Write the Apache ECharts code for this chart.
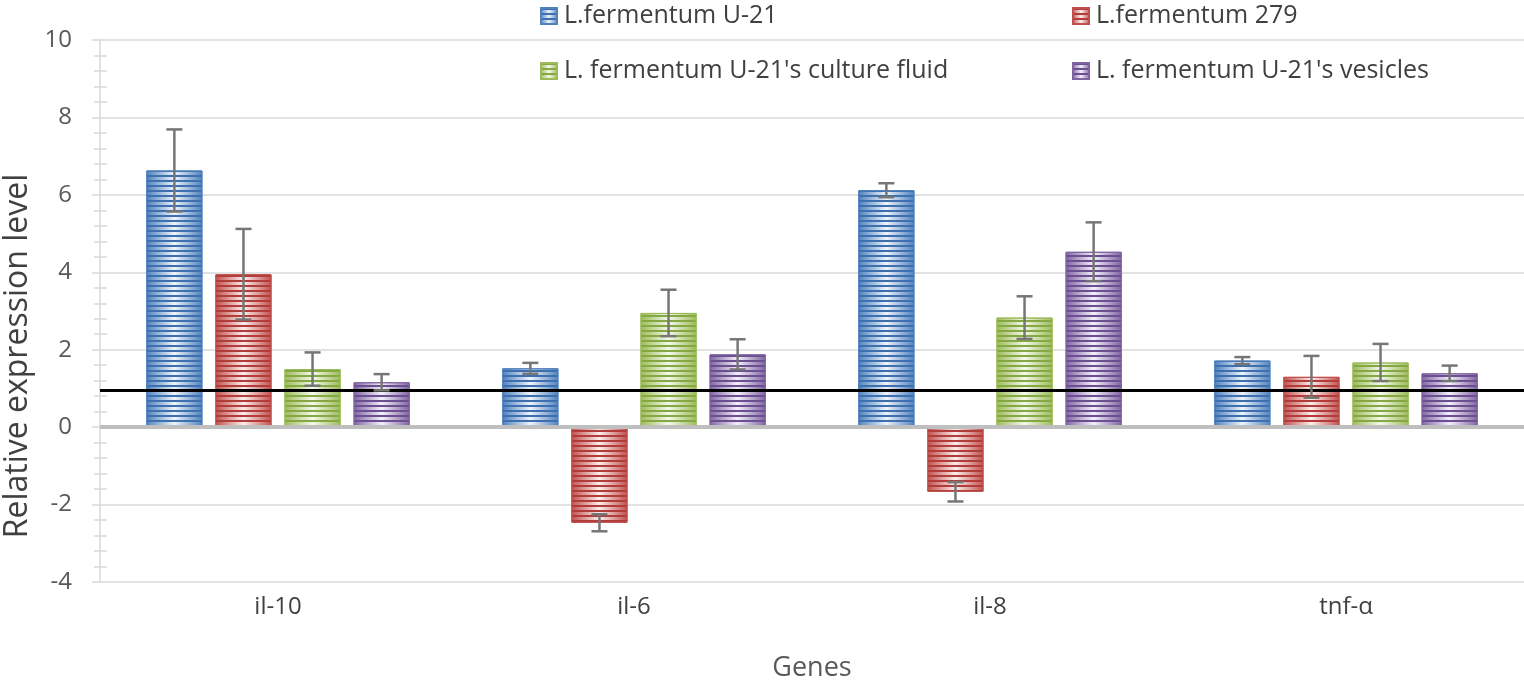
<!DOCTYPE html>
<html>
<head>
<meta charset="utf-8">
<script src="https://cdn.jsdelivr.net/npm/echarts@6/dist/echarts.min.js"></script>
<style>
  html, body { margin: 0; padding: 0; background: #fff; }
  #chart_expr { width: 1524px; height: 680px; }
</style>
</head>
<body>
<div id="chart_expr"></div>
<script>
// data
var genes = ['il-10', 'il-6', 'il-8', 'tnf-α'];
var seriesNames = [
    'L.fermentum U-21',
    'L.fermentum 279',
    "L. fermentum U-21's culture fluid",
    "L. fermentum U-21's vesicles"
];
var u21 = [6.63, 1.52, 6.12, 1.72];
var f279 = [3.95, -2.47, -1.67, 1.30];
var fluid = [1.50, 2.95, 2.83, 1.67];
var vesicles = [1.16, 1.88, 4.53, 1.39];
// error (± half range)
var u21Err = [1.06, 0.14, 0.18, 0.09];
var f279Err = [1.17, 0.22, 0.25, 0.54];
var fluidErr = [0.43, 0.60, 0.55, 0.48];
var vesiclesErr = [0.21, 0.39, 0.76, 0.20];
var refLevel = 0.95;
var yTicks = [-4, -2, 0, 2, 4, 6, 8, 10];

var colors = ['#4f81bd', '#c0504d', '#9bbb59', '#8064a2'];
var darks = ['#3e6fae', '#b23c39', '#86a843', '#6b4f90'];
var lights = ['#eef4fb', '#fbeeee', '#f4f9ec', '#f3effa'];

var CAT_GAP = 0.26, BAR_GAP = 0.23;

var myChart = echarts.init(document.getElementById('chart_expr'));

function barStyle(i) {
    return {
        color: new echarts.graphic.LinearGradient(0, 0, 1, 0, [
            {offset: 0, color: colors[i]},
            {offset: 0.5, color: lights[i]},
            {offset: 1, color: colors[i]}
        ]),
        borderColor: colors[i],
        borderWidth: 1,
        decal: {
            symbol: 'rect',
            symbolSize: 1,
            dashArrayX: [[1, 0]],
            dashArrayY: [2, 2.6],
            rotation: 0,
            color: darks[i]
        }
    };
}

function errRender(k) {
    return function (params, api) {
        var c = api.value(0);
        var lo = api.coord([c, api.value(1)]);
        var hi = api.coord([c, api.value(2)]);
        var band = api.size([1, 0])[0];
        var usable = band * (1 - CAT_GAP);
        var bw = usable / (4 + 3 * BAR_GAP);
        var x = lo[0] - usable / 2 + bw / 2 + k * bw * (1 + BAR_GAP);
        var st = {stroke: '#767676', lineWidth: 2.5};
        return {
            type: 'group',
            children: [
                {type: 'line', shape: {x1: x, y1: lo[1], x2: x, y2: hi[1]}, style: st},
                {type: 'line', shape: {x1: x - 8, y1: lo[1], x2: x + 8, y2: lo[1]}, style: st},
                {type: 'line', shape: {x1: x - 8, y1: hi[1], x2: x + 8, y2: hi[1]}, style: st}
            ]
        };
    };
}

var values = [u21, f279, fluid, vesicles];
var errs = [u21Err, f279Err, fluidErr, vesiclesErr];
var series = [];
values.forEach(function (v, i) {
    var s = {
        name: seriesNames[i],
        type: 'bar',
        data: v,
        barCategoryGap: (CAT_GAP * 100) + '%',
        barGap: (BAR_GAP * 100) + '%',
        itemStyle: barStyle(i),
        z: 2
    };
    if (i == 0) {
        s.markLine = {
            silent: true,
            symbol: 'none',
            label: {show: false},
            data: [
                {yAxis: 0, lineStyle: {color: '#bfbfbf', width: 4, type: 'solid'}},
                {yAxis: refLevel, lineStyle: {color: '#000', width: 3, type: 'solid'}}
            ]
        };
    }
    series.push(s);
});
errs.forEach(function (e, i) {
    var d = [];
    for (var j = 0; j < genes.length; j++) {
        d.push([j, values[i][j] - e[j], values[i][j] + e[j]]);
    }
    series.push({
        name: 'err' + i,
        type: 'custom',
        renderItem: errRender(i),
        data: d,
        z: 5,
        silent: true
    });
});

var legendText = {color: '#404040', fontSize: 25, fontFamily: 'Open Sans', lineHeight: 30, padding: [0, 0, 0, 2]};

option = {
    animation: false,
    grid: {left: 100, right: 0, top: 40, bottom: 98, outerBoundsMode: 'none', containLabel: false},
    legend: [
        {
            data: [seriesNames[0], seriesNames[2]],
            orient: 'vertical', left: 535, top: -4,
            icon: 'rect', itemWidth: 16, itemHeight: 16, itemGap: 25,
            textStyle: legendText
        },
        {
            data: [seriesNames[1], seriesNames[3]],
            orient: 'vertical', left: 1067, top: -4,
            icon: 'rect', itemWidth: 16, itemHeight: 16, itemGap: 25,
            textStyle: legendText
        }
    ],
    xAxis: {
        type: 'category',
        data: genes,
        name: 'Genes',
        nameLocation: 'middle',
        nameGap: 73,
        nameTextStyle: {color: '#595959', fontSize: 27, fontFamily: 'Open Sans'},
        axisLine: {show: false, onZero: false},
        axisTick: {show: false},
        axisLabel: {color: '#404040', fontSize: 24, fontFamily: 'Open Sans', margin: 13}
    },
    yAxis: [
        {
            type: 'value',
            min: yTicks[0],
            max: yTicks[yTicks.length - 1],
            interval: 2,
            name: 'Relative expression level',
            nameLocation: 'middle',
            nameGap: 62,
            nameTextStyle: {color: '#404040', fontSize: 32, fontFamily: 'Open Sans', padding: [0, 90, 0, 0]},
            axisLine: {show: true, lineStyle: {color: '#d9d9d9', width: 1.5}},
            axisTick: {show: true, length: 8, lineStyle: {color: '#d9d9d9', width: 1.5}},
            minorTick: {show: true, splitNumber: 5, length: 6, lineStyle: {color: '#d9d9d9', width: 1.5}},
            splitLine: {show: true, lineStyle: {color: '#d9d9d9', width: 1.5}},
            axisLabel: {color: '#595959', fontSize: 24, fontFamily: 'Open Sans', margin: 28}
        },
        {
            type: 'value',
            min: yTicks[0],
            max: yTicks[yTicks.length - 1],
            interval: 2,
            position: 'left',
            axisLine: {show: false},
            axisTick: {show: true, inside: true, length: 0},
            minorTick: {show: true, splitNumber: 5, length: 7, lineStyle: {color: '#d9d9d9', width: 1.5}},
            splitLine: {show: false},
            axisLabel: {show: false}
        }
    ],
    series: series
};
myChart.setOption(option);
</script>
</body>
</html>
